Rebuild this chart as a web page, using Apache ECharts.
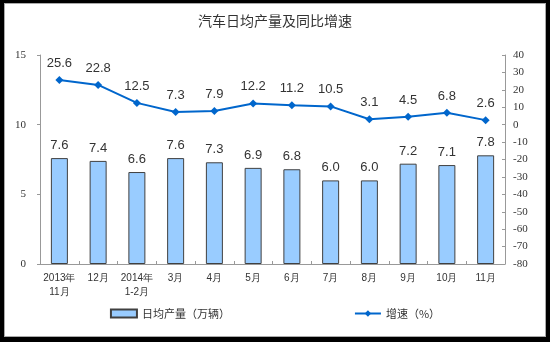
<!DOCTYPE html>
<html>
<head>
<meta charset="utf-8">
<script src="https://cdn.jsdelivr.net/npm/echarts@6/dist/echarts.min.js"></script>
<style>
  html, body { margin: 0; padding: 0; background: #000; }
  #frame { position: absolute; left: 4px; top: 3px; width: 540px; height: 332px; background: #fff; border: 1px solid #aaa; }
  #chart { position: absolute; left: 0; top: 0; width: 550px; height: 342px; }
</style>
</head>
<body>
<div id="frame"></div>
<div id="chart"></div>
<script>
// Monthly categories
const categories = ['2013年\n11月', '12月', '2014年\n1-2月', '3月', '4月', '5月', '6月', '7月', '8月', '9月', '10月', '11月'];
// Daily average output (10k vehicles)
const dailyOutput = [7.6, 7.4, 6.6, 7.6, 7.3, 6.9, 6.8, 6.0, 6.0, 7.2, 7.1, 7.8];
// Year-on-year growth (%)
const growth = [25.6, 22.8, 12.5, 7.3, 7.9, 12.2, 11.2, 10.5, 3.1, 4.5, 6.8, 2.6];

const chart = echarts.init(document.getElementById('chart'), null, { renderer: 'canvas' });
const axisFont = { fontFamily: 'Liberation Serif', fontSize: 11, color: '#333' };

chart.setOption({
  backgroundColor: 'transparent',
  animation: false,
  title: {
    text: '汽车日均产量及同比增速',
    left: 'center',
    top: 9,
    textStyle: { fontFamily: 'Noto Sans CJK SC', fontSize: 14, fontWeight: 'normal', color: '#333' }
  },
  legend: {
    bottom: 18,
    left: 'center',
    itemGap: 124,
    itemWidth: 26,
    itemHeight: 8,
    textStyle: { fontFamily: 'Noto Sans CJK SC', fontSize: 11, color: '#333' },
    data: [
      { name: '日均产量（万辆）', icon: 'rect' },
      { name: '增速（%）' }
    ]
  },
  grid: { left: 40, right: 45, top: 55, bottom: 78 },
  xAxis: {
    type: 'category',
    data: categories,
    axisLine: { lineStyle: { color: '#999', width: 1 } },
    axisTick: { show: true, length: 3, inside: true, lineStyle: { color: '#999' } },
    axisLabel: { interval: 0, fontFamily: 'Liberation Sans', fontSize: 10, color: '#333', margin: 7, lineHeight: 14 }
  },
  yAxis: [
    {
      type: 'value', min: 0, max: 15, interval: 5,
      axisLine: { show: true, lineStyle: { color: '#999' } },
      axisTick: { show: true, length: 3, lineStyle: { color: '#999' } },
      splitLine: { show: false },
      axisLabel: Object.assign({ margin: 14 }, axisFont)
    },
    {
      type: 'value', min: -80, max: 40, interval: 10,
      axisLine: { show: true, lineStyle: { color: '#999' } },
      axisTick: { show: true, inside: true, length: 3, lineStyle: { color: '#999' } },
      splitLine: { show: false },
      axisLabel: Object.assign({ margin: 8 }, axisFont)
    }
  ],
  series: [
    {
      name: '日均产量（万辆）',
      type: 'bar',
      yAxisIndex: 0,
      data: dailyOutput,
      barWidth: 17,
      itemStyle: { color: '#99CCFF', borderColor: '#404040', borderWidth: 1 },
      label: {
        show: true, position: 'top', distance: 6,
        fontFamily: 'Liberation Sans', fontSize: 13, color: '#333',
        formatter: p => p.value.toFixed(1)
      }
    },
    {
      name: '增速（%）',
      type: 'line',
      yAxisIndex: 1,
      data: growth,
      symbol: 'diamond',
      symbolSize: 8,
      lineStyle: { color: '#0066CC', width: 2 },
      itemStyle: { color: '#0066CC' },
      label: {
        show: true, position: 'top', distance: 6,
        fontFamily: 'Liberation Sans', fontSize: 13, color: '#333',
        formatter: p => p.value.toFixed(1)
      }
    }
  ]
});
</script>
</body>
</html>
